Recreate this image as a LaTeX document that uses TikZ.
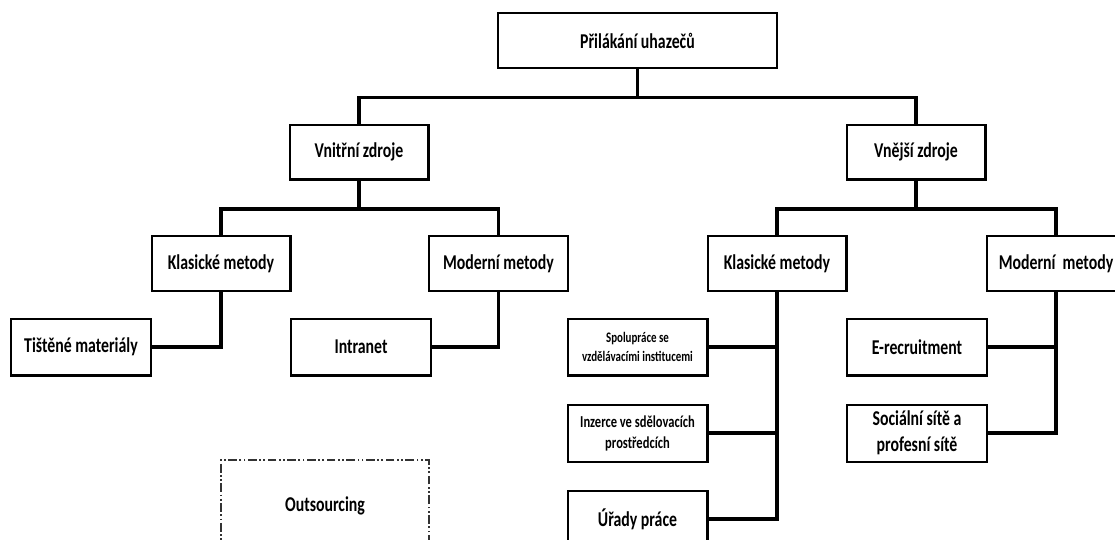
\documentclass[tikz,border=0pt]{standalone}
\usepackage{fontspec}
\setmainfont{Carlito}[FakeStretch=0.75]
\usetikzlibrary{positioning}

\begin{document}
\begin{tikzpicture}[
  x=0.02cm,y=-0.02cm,
  node distance=0.54cm,
  box/.style={draw,line width=1.15pt,minimum width=2.78cm,minimum height=1.1cm,
    align=center,inner sep=0pt,font=\fontsize{12}{14}\selectfont\bfseries},
  leaf/.style={box,minimum width=2.8cm,minimum height=1.14cm},
  link/.style={line width=1.8pt}
]
  \clip (0,0) rectangle (1115,539);
  \fill[white] (0,0) rectangle (1115,539);

  % top levels
  \node[box,minimum width=5.58cm] (root) at (637.5,40.5) {Přilákání uhazečů};
  \node[box] (vnitrni) at (359,152) {Vnitřní zdroje};
  \node[box] (vnejsi) at (916,152) {Vnější zdroje};
  \node[box] (klasVn) at (221,263.5) {Klasické metody};
  \node[box] (modVn) at (498.5,263.5) {Moderní metody};
  \node[box] (klasVe) at (777,263.5) {Klasické metody};
  \node[box] (modVe) at (1056,263.5) {Moderní\ \ metody};

  % leaves
  \node[leaf] (tistene) at (81,347) {Tištěné materiály};
  \node[leaf] (intranet) at (361,347) {Intranet};
  \node[leaf,font=\fontsize{8.3}{10.8}\selectfont\bfseries] (spoluprace) at (637.5,347)
    {Spolupráce se\\vzdělávacími institucemi};
  \node[leaf,below=of spoluprace,font=\fontsize{9.5}{11.9}\selectfont\bfseries] (inzerce)
    {Inzerce ve sdělovacích\\prostředcích};
  \node[leaf,below=of inzerce] (urady) {Úřady práce};
  \node[leaf] (erecruit) at (917,347) {E-recruitment};
  \node[leaf,below=of erecruit,font=\fontsize{12}{15}\selectfont\bfseries] (socialni)
    {Sociální sítě a\\profesní sítě};
  \node[box,draw=black!80,line width=1pt,
    dash pattern=on 5pt off 1.4pt on 1pt off 1.4pt on 1pt off 1.4pt,
    minimum width=4.16cm,minimum height=1.84cm] (outsourcing) at (325,506) {Outsourcing};

  % connectors
  \draw[link] (root.south) -- ++(0,28.5) coordinate (busTop);
  \draw[link] (vnitrni.north) |- (busTop) -| (vnejsi.north);
  \draw[link] (vnitrni.south) -- ++(0,28.5) coordinate (busVn);
  \draw[link] (klasVn.north) |- (busVn) -| (modVn.north);
  \draw[link] (vnejsi.south) -- ++(0,28.5) coordinate (busVe);
  \draw[link] (klasVe.north) |- (busVe) -| (modVe.north);

  \draw[link] (klasVn.south) |- (tistene.east);
  \draw[link] (modVn.south) |- (intranet.east);
  \draw[link] (klasVe.south) |- (urady.east);
  \draw[link] (spoluprace.east) -- (spoluprace.east -| klasVe.south);
  \draw[link] (inzerce.east) -- (inzerce.east -| klasVe.south);
  \draw[link] (modVe.south) |- (socialni.east);
  \draw[link] (erecruit.east) -- (erecruit.east -| modVe.south);
\end{tikzpicture}
\end{document}
